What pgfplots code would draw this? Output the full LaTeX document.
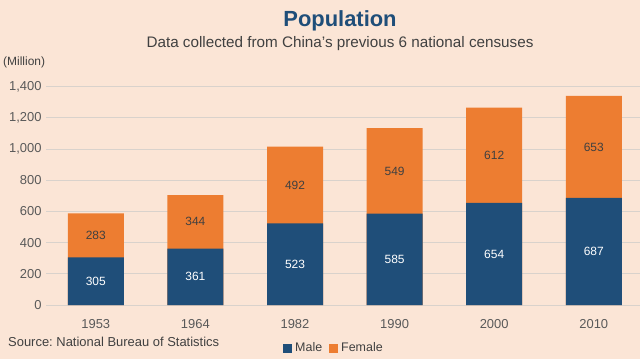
\documentclass[border=0pt]{standalone}
\usepackage{pgfplots}
\pgfplotsset{compat=1.18}
\usepackage{pgfplotstable}
\usepackage{fontspec}
\setmainfont{Liberation Sans}
\frenchspacing
\definecolor{bg}{HTML}{FBE5D6}
\definecolor{male}{HTML}{1F4E79}
\definecolor{female}{HTML}{ED7D31}
\definecolor{gridc}{HTML}{D9D2CC}
\definecolor{tickc}{HTML}{595959}
\definecolor{subc}{HTML}{404040}
\pgfplotstableread{
x year male female
0 1953 305 283
1 1964 361 344
2 1982 523 492
3 1990 585 549
4 2000 654 612
5 2010 687 653
}\census
\begin{document}
\begin{tikzpicture}[x=1bp,y=1bp]
\fill[bg] (0,0) rectangle (640,359);
\useasboundingbox (0,0) rectangle (640,359);
\node[font=\fontsize{22}{26}\selectfont\bfseries, text=male] at (340,338) {Population};
\node[font=\fontsize{15.3}{18}\selectfont, text=subc] at (340,315) {Data collected from China's previous 6 national censuses};
\node[font=\fontsize{12}{14}\selectfont, text=subc, anchor=west, inner sep=0pt] at (3,297) {(Million)};
\node[font=\fontsize{13}{15}\selectfont, text=subc, anchor=west, inner sep=0pt] at (8,17) {Source: National Bureau of Statistics};
\begin{axis}[
  at={(46bp,54bp)}, anchor=south west,
  scale only axis, width=594bp, height=218.4bp,
  xmin=-0.5, xmax=5.464, ymin=0, ymax=1400,
  ytick={0,200,...,1400},
  xtick={0,...,5},
  xticklabels={1953,1964,1982,1990,2000,2010},
  ymajorgrids, grid style={draw=gridc, line width=0.8bp},
  axis line style={draw=none},
  major tick length=0pt,
  /pgf/number format/1000 sep={,},
  /pgf/number format/assume math mode=true,
  tick label style={font=\fontsize{13}{15}\selectfont, text=tickc},
  xticklabel style={yshift=-11bp},
  yticklabel style={xshift=-1bp},
  clip=false,
  legend image code/.code={\fill[#1, draw=none] (0bp,-4.5bp) rectangle (9bp,4.5bp);},
  legend style={at={(0.399,-0.197)}, anchor=west, draw=none, fill=none,
    font=\fontsize{12.5}{15}\selectfont, text=subc, inner sep=0pt,
    /tikz/every even column/.append style={column sep=4bp},
    nodes={inner xsep=3bp}},
  legend columns=2,
]
\addlegendimage{fill=male, draw=none}
\addlegendentry{Male}
\addlegendimage{fill=female, draw=none}
\addlegendentry{Female}
\addplot[ybar, bar width=56bp, bar shift=0pt, fill=female, draw=none, forget plot]
  table[x=x, y expr=\thisrow{male}+\thisrow{female}] {\census};
\addplot[ybar, bar width=56bp, bar shift=0pt, fill=male, draw=none, forget plot]
  table[x=x, y=male] {\census};
\addplot[draw=none, mark=none, forget plot, nodes near coords, point meta=explicit,
  every node near coord/.append style={anchor=center, font=\fontsize{12}{14}\selectfont, text=white}]
  table[x=x, y expr=\thisrow{male}/2, meta=male] {\census};
\addplot[draw=none, mark=none, forget plot, nodes near coords, point meta=explicit,
  every node near coord/.append style={anchor=center, font=\fontsize{12}{14}\selectfont, text=subc}]
  table[x=x, y expr=\thisrow{male}+\thisrow{female}/2, meta=female] {\census};
\end{axis}
\end{tikzpicture}
\end{document}
